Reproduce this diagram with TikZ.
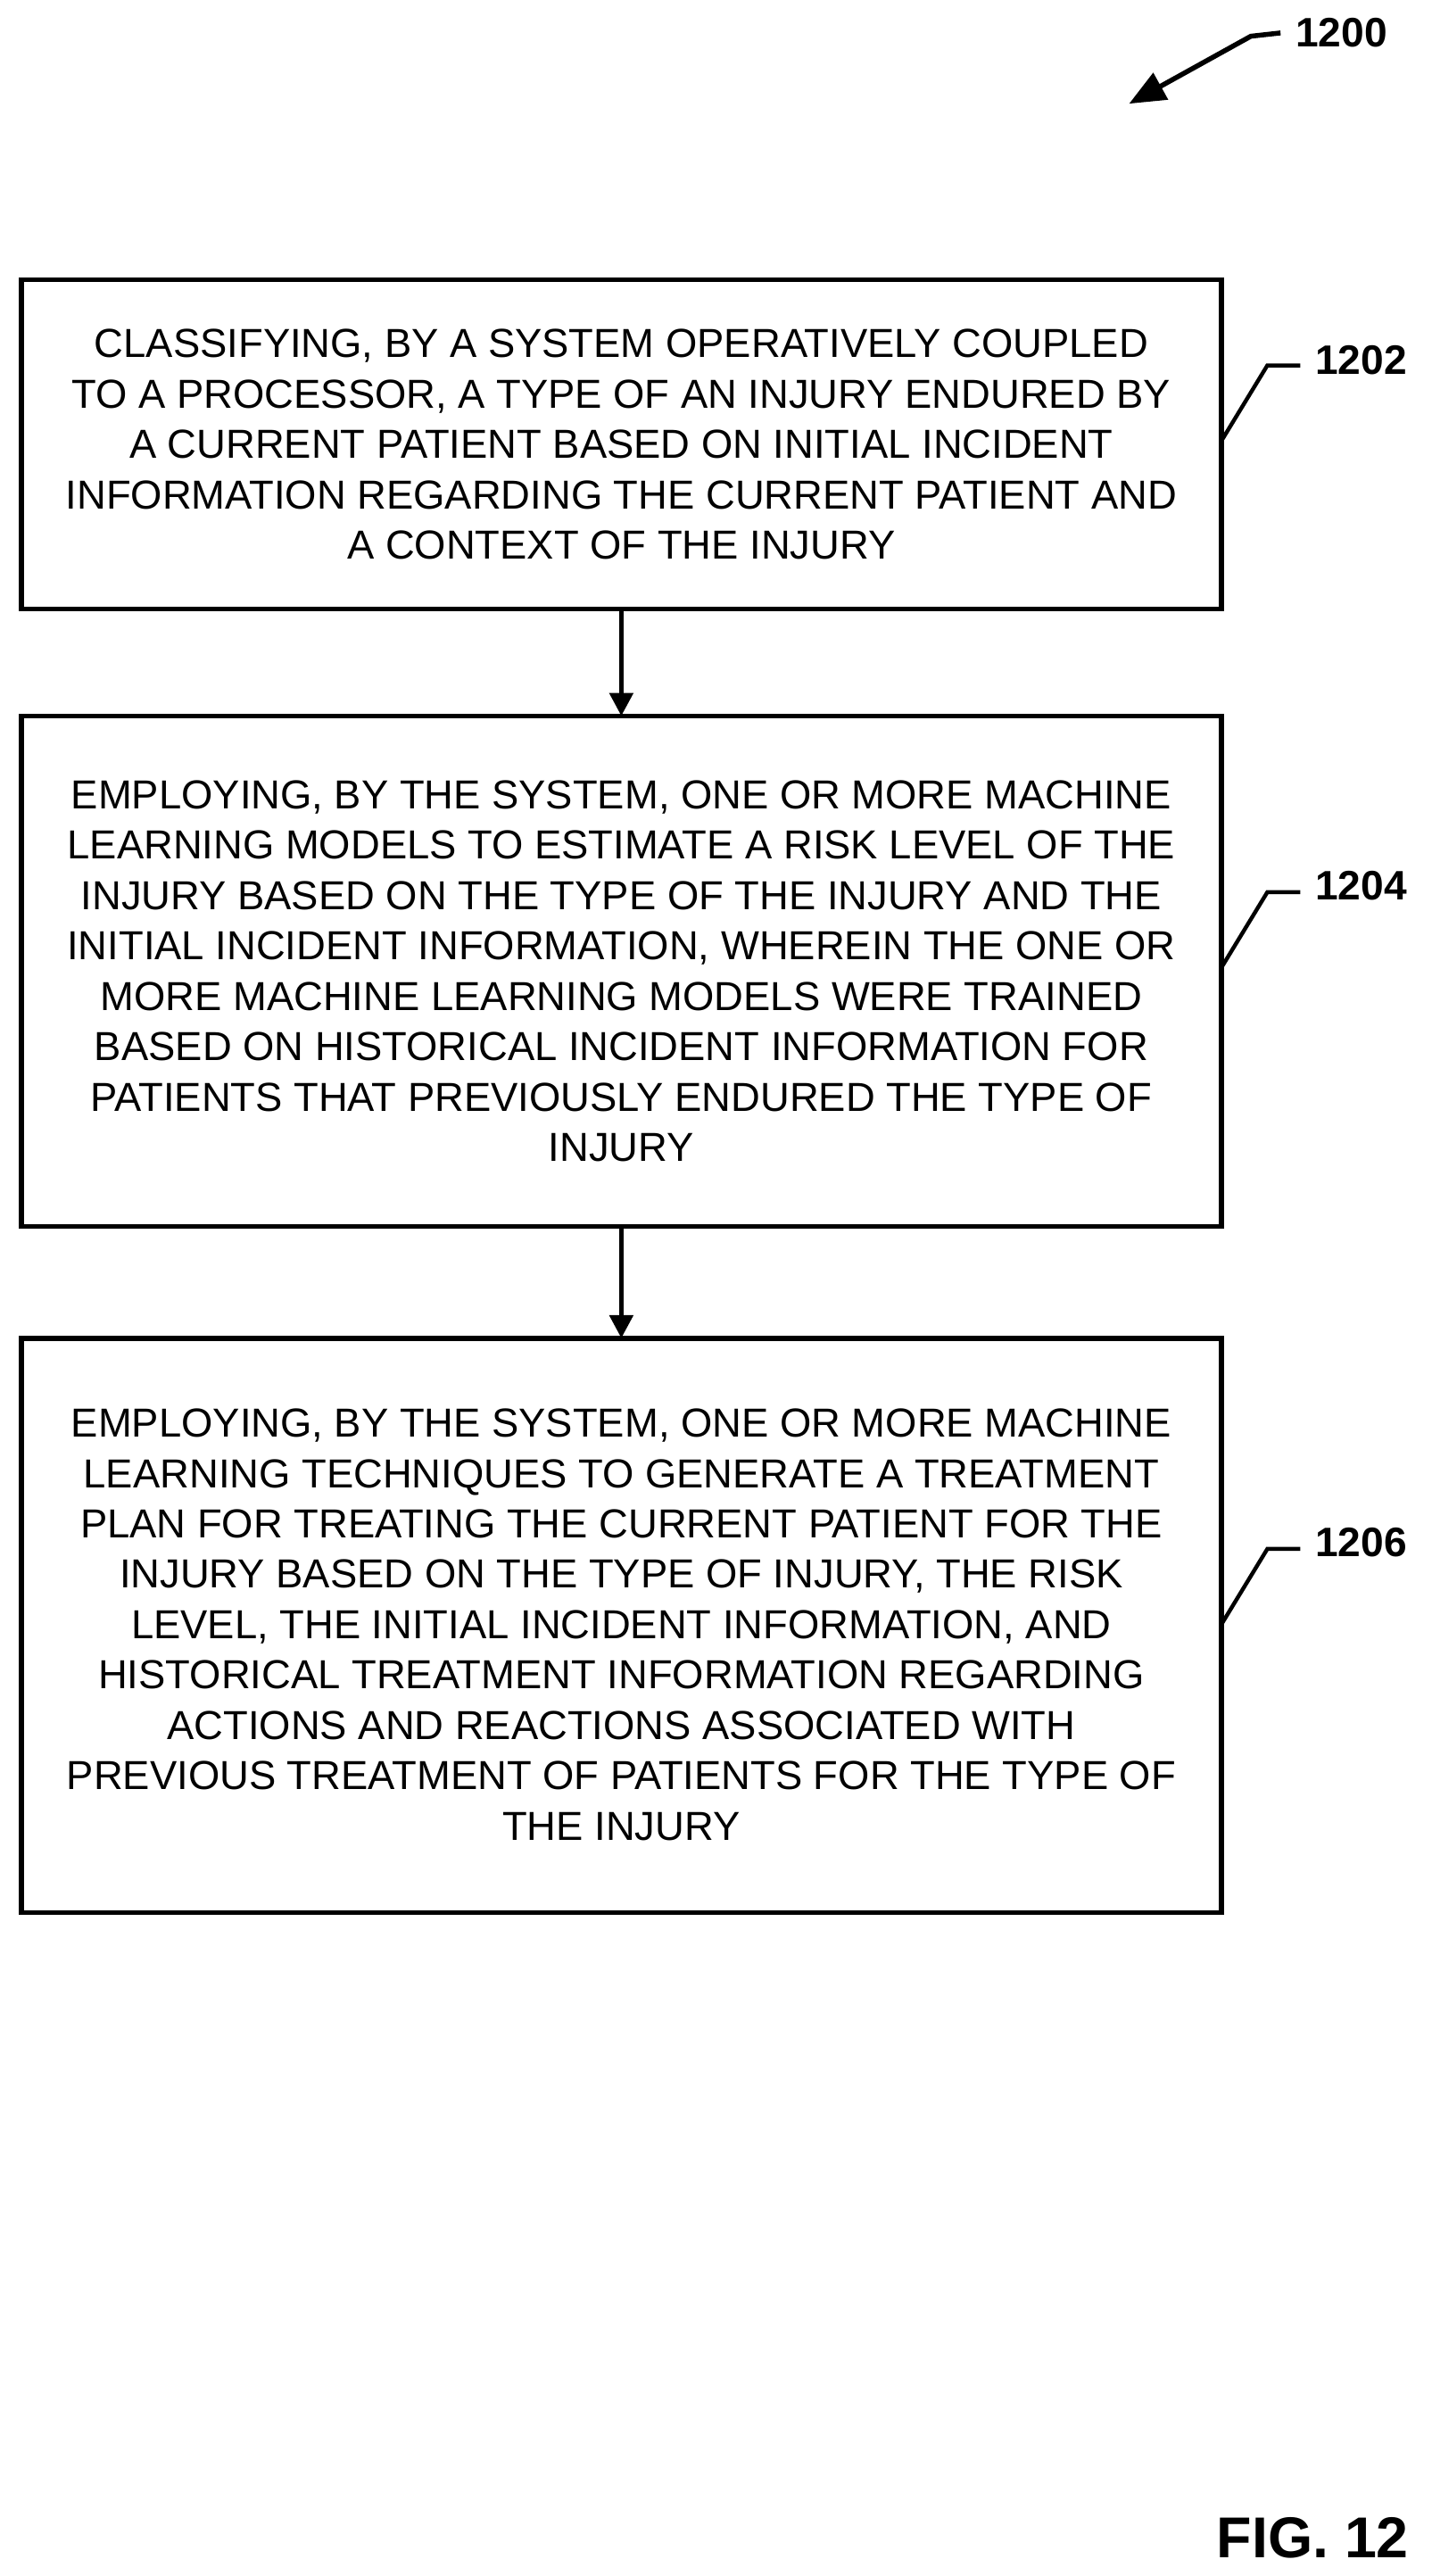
\documentclass[tikz,border=0pt]{standalone}
\usepackage{fontspec}
\setmainfont{Liberation Sans}
\usetikzlibrary{positioning,arrows.meta}
\tikzset{every picture/.style={line width=1.2pt}}
\tikzset{
  stepbox/.style={draw, line width=1.5pt},
  steptext/.style={align=center, inner sep=0pt, font=\fontsize{12.3}{15.3}\selectfont},
  flow/.style={-{Triangle[length=7pt,width=7pt]}, line width=1.5pt},
  refnum/.style={font=\bfseries\fontsize{12.5}{14}\selectfont, anchor=west, inner sep=0pt}
}
\begin{document}
\begin{tikzpicture}[x=0.5pt,y=0.5pt,yscale=-1,xscale=1]
    \useasboundingbox (0,0) rectangle (870,1565);

    % Boxes
    \draw[stepbox] (13,170) rectangle (742,370);
    \node[steptext] (b1) at (377.5,270) {CLASSIFYING, BY A SYSTEM OPERATIVELY COUPLED\\TO A PROCESSOR, A TYPE OF AN INJURY ENDURED BY\\A CURRENT PATIENT BASED ON INITIAL INCIDENT\\INFORMATION REGARDING THE CURRENT PATIENT AND\\A CONTEXT OF THE INJURY};
    \draw[stepbox] (13,435) rectangle (742,745);
    \node[steptext] (b2) at (377.5,590) {EMPLOYING, BY THE SYSTEM, ONE OR MORE MACHINE\\LEARNING MODELS TO ESTIMATE A RISK LEVEL OF THE\\INJURY BASED ON THE TYPE OF THE INJURY AND THE\\INITIAL INCIDENT INFORMATION, WHEREIN THE ONE OR\\MORE MACHINE LEARNING MODELS WERE TRAINED\\BASED ON HISTORICAL INCIDENT INFORMATION FOR\\PATIENTS THAT PREVIOUSLY ENDURED THE TYPE OF\\INJURY};
    \draw[stepbox] (13,813) rectangle (742,1162);
    \node[steptext] (b3) at (377.5,987) {EMPLOYING, BY THE SYSTEM, ONE OR MORE MACHINE\\LEARNING TECHNIQUES TO GENERATE A TREATMENT\\PLAN FOR TREATING THE CURRENT PATIENT FOR THE\\INJURY BASED ON THE TYPE OF INJURY, THE RISK\\LEVEL, THE INITIAL INCIDENT INFORMATION, AND\\HISTORICAL TREATMENT INFORMATION REGARDING\\ACTIONS AND REACTIONS ASSOCIATED WITH\\PREVIOUS TREATMENT OF PATIENTS FOR THE TYPE OF\\THE INJURY};

    % Arrows
    \coordinate (a1) at (377.5,370);
    \coordinate (a2) at (377.5,435);
    \coordinate (a3) at (377.5,745);
    \coordinate (a4) at (377.5,813);
    \draw[flow] (a1) -- (a2);
    \draw[flow] (a3) -- (a4);

    % Reference numerals
    \node[refnum] (r1202) at (798,219) {1202};
    \draw (742,268) -- (770,222) -- (790,222);
    \node[refnum] (r1204) at (798,538) {1204};
    \draw (742,588) -- (770,542) -- (790,542);
    \node[refnum] (r1206) at (798,937) {1206};
    \draw (742,987) -- (770,941) -- (790,941);

    \node[refnum] (r1200) at (786,20) {1200};
    \coordinate (t1200) at (686,63);
    \draw[-{Triangle[length=11pt,width=9pt]}, line width=1.5pt] (778,20) -- (760,22) -- (t1200);

    \node[font=\bfseries\fontsize{17.5}{20}\selectfont, anchor=west, inner sep=0pt] (fig) at (738,1542) {FIG. 12};
\end{tikzpicture}
\end{document}
